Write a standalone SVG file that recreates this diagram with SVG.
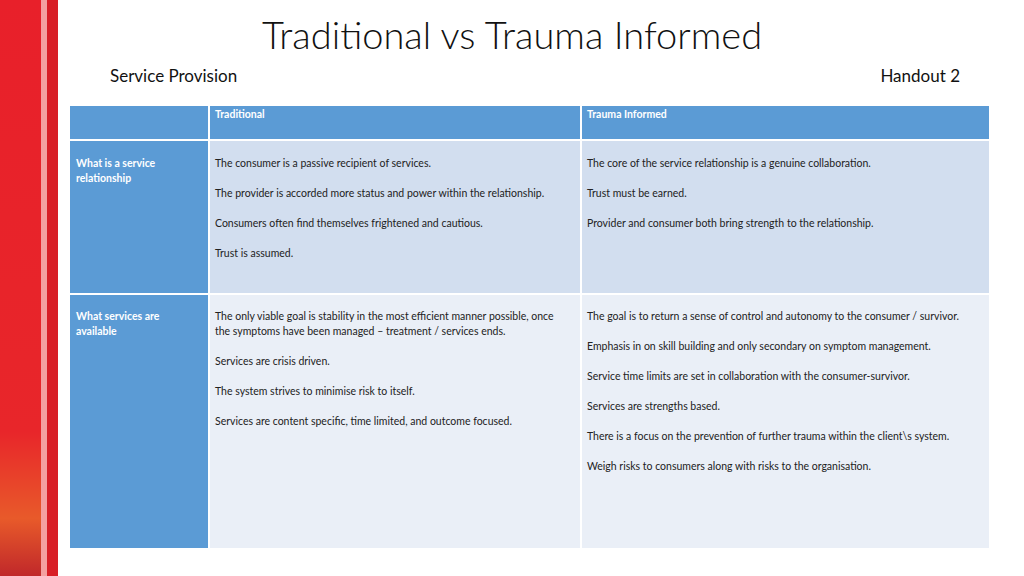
<svg xmlns="http://www.w3.org/2000/svg" width="1024" height="576" viewBox="0 0 1024 576">
<defs>
<linearGradient id="red" x1="0" y1="0" x2="0" y2="1">
<stop offset="0" stop-color="#e8202a"/><stop offset="0.75" stop-color="#e8262a"/><stop offset="0.9" stop-color="#e85a2a"/><stop offset="1" stop-color="#c0282a"/>
</linearGradient>
</defs>
<style>
.t{font-family:Lato,"Open Sans",sans-serif;fill:#222;font-size:10.5px}
.h{font-family:Lato,"Open Sans",sans-serif;fill:#fff;font-size:10.5px;font-weight:bold}
.b{fill:#5b9bd5}
</style>
<rect width="1024" height="576" fill="#fff"/>
<g id="decor">
<rect x="0" y="0" width="58" height="576" fill="url(#red)"/>
<rect x="41" y="0" width="6" height="576" fill="#f4a0a0"/>
<rect x="47" y="0" width="11" height="576" fill="#d81e26"/>
</g>
<g id="title">
<text x="512" y="49" text-anchor="middle" font-family="Lato,'Open Sans',sans-serif" font-size="38" font-weight="300" fill="#111">Traditional vs Trauma Informed</text>
<text x="110" y="82" font-family="Lato,'Open Sans',sans-serif" font-size="17" fill="#111">Service Provision</text>
<text x="960" y="82" text-anchor="end" font-family="Lato,'Open Sans',sans-serif" font-size="17" fill="#111">Handout 2</text>
</g>
<g id="table">
<rect class="b" x="70" y="106" width="138" height="33"/>
<rect class="b" x="210" y="106" width="370" height="33"/>
<rect class="b" x="582" y="106" width="407" height="33"/>
<rect class="b" x="70" y="141" width="138" height="152"/>
<rect fill="#d2deef" x="210" y="141" width="370" height="152"/>
<rect fill="#d2deef" x="582" y="141" width="407" height="152"/>
<rect class="b" x="70" y="295" width="138" height="253"/>
<rect fill="#eaeff7" x="210" y="295" width="370" height="253"/>
<rect fill="#eaeff7" x="582" y="295" width="407" height="253"/>
</g>
<g id="text">
<text class="h" x="215" y="118">Traditional</text>
<text class="h" x="587" y="118">Trauma  Informed</text>
<text class="h" x="76" y="167">What is a service</text>
<text class="h" x="76" y="182">relationship</text>
<text class="h" x="76" y="320">What services are</text>
<text class="h" x="76" y="335">available</text>
<text class="t" x="215" y="167">The consumer is a passive recipient of services.</text>
<text class="t" x="215" y="197">The provider is accorded more status and power within the relationship.</text>
<text class="t" x="215" y="227">Consumers often find themselves frightened and cautious.</text>
<text class="t" x="215" y="257">Trust is assumed.</text>
<text class="t" x="587" y="167">The core of the service relationship is a genuine collaboration.</text>
<text class="t" x="587" y="197">Trust must be earned.</text>
<text class="t" x="587" y="227">Provider and consumer both bring strength to the relationship.</text>
<text class="t" x="215" y="320">The only viable goal is stability in the most efficient manner possible, once</text>
<text class="t" x="215" y="335">the symptoms have been managed – treatment / services ends.</text>
<text class="t" x="215" y="365">Services are crisis driven.</text>
<text class="t" x="215" y="395">The system strives to minimise risk to itself.</text>
<text class="t" x="215" y="425">Services are content specific, time limited, and outcome focused.</text>
<text class="t" x="587" y="320">The goal is to return a sense of control and autonomy to the consumer / survivor.</text>
<text class="t" x="587" y="350">Emphasis in on skill building and only secondary on symptom management.</text>
<text class="t" x="587" y="380">Service time limits are set in collaboration with the consumer-survivor.</text>
<text class="t" x="587" y="410">Services are strengths based.</text>
<text class="t" x="587" y="440">There is a focus on the prevention of further trauma within the client\s system.</text>
<text class="t" x="587" y="470">Weigh risks to consumers along with risks to the organisation.</text>
</g>
</svg>
